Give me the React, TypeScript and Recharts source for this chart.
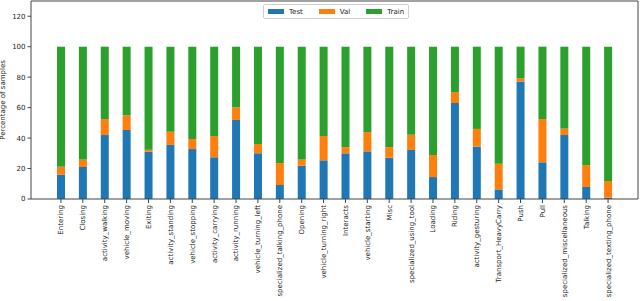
import { Bar, BarChart, Legend, ReferenceLine, XAxis, YAxis } from 'recharts';

const categories = [
    'Entering', 'Closing', 'activity_walking', 'vehicle_moving', 'Exiting', 'activity_standing',
    'vehicle_stopping', 'activity_carrying', 'activity_running', 'vehicle_turning_left',
    'specialized_talking_phone', 'Opening', 'vehicle_turning_right', 'Interacts', 'vehicle_starting',
    'Misc', 'specialized_using_tool', 'Loading', 'Riding', 'activity_gesturing', 'Transport_HeavyCarry',
    'Push', 'Pull', 'specialized_miscellaneous', 'Talking', 'specialized_texting_phone',
];
const testPct = [16, 21, 42, 45.3, 31, 35.5, 32.8, 27.4, 51.9, 30, 9.2, 21.9, 25.4, 30, 31.3, 27.1, 32.2, 14.4, 63, 34.4, 6.3, 77.2, 24.1, 42, 7.9, 0.9];
const valPct = [5.2, 5, 10.5, 9.7, 1.4, 8.7, 6.6, 14, 8.3, 6.1, 14.4, 4.1, 16, 4.1, 12.7, 7, 10, 14.5, 7.2, 11.6, 16.9, 2.2, 28.4, 4.2, 14.4, 10.9];
const trainPct = [78.8, 74, 47.5, 45, 67.6, 55.8, 60.6, 58.6, 39.8, 63.9, 76.4, 74, 58.6, 65.9, 56, 65.9, 57.8, 71.1, 29.8, 54, 76.8, 20.6, 47.5, 53.8, 77.7, 88.2];
const yTicks = [0, 20, 40, 60, 80, 100, 120];
const yMax = 130;

const series = [
    { key: 'test', name: 'Test', color: '#1f77b4' },
    { key: 'val', name: 'Val', color: '#ff7f0e' },
    { key: 'train', name: 'Train', color: '#2ca02c' },
];

const data = categories.map((name, i) => ({
    name,
    test: testPct[i],
    val: valPct[i],
    train: trainPct[i],
}));

const FONT = 'DejaVu Sans, sans-serif';
const SPINE = '#444';

const XTick = ({ x, y, payload }: any) => (
    <g transform={`translate(${x},${y}) rotate(-90)`}>
        <text x={0} y={0} dy="0.35em" textAnchor="end" fontSize={7} fontFamily={FONT} fill="#222">
            {payload.value}
        </text>
    </g>
);

const LegendBox = () => (
    <div
        style={{
            display: 'flex',
            alignItems: 'center',
            border: '1px solid #d0d0d0',
            borderRadius: 2,
            background: '#fff',
            height: 13,
            padding: '0 4px',
            fontFamily: FONT,
            fontSize: 7,
            color: '#222',
            boxSizing: 'content-box',
        }}
    >
        {series.map((s, i) => (
            <div key={s.key} style={{ display: 'flex', alignItems: 'center', marginLeft: i ? 16 : 0 }}>
                <span style={{ width: 16, height: 5, background: s.color, marginRight: 5 }} />
                <span>{s.name}</span>
            </div>
        ))}
    </div>
);

const App = () => {
    return (
        <div style={{ position: 'absolute', left: 0, top: 0, background: '#fff' }}>
            <BarChart width={640} height={301} data={data} margin={{ top: 1, right: 1, left: 0, bottom: 0 }}>
                <XAxis
                    dataKey="name"
                    interval={0}
                    height={102}
                    padding={{ left: 19, right: 19 }}
                    tick={<XTick />}
                    tickSize={4}
                    tickMargin={2}
                    stroke={SPINE}
                />
                <YAxis
                    domain={[0, yMax]}
                    ticks={yTicks}
                    width={31}
                    tickSize={3.5}
                    tickMargin={2}
                    stroke={SPINE}
                    tick={{ fontSize: 7, fontFamily: FONT, fill: '#222' }}
                    label={{
                        content: ({ viewBox }: any) => (
                            <text
                                transform={`translate(5,${viewBox.y + viewBox.height / 2}) rotate(-90)`}
                                textAnchor="middle"
                                fontSize={7}
                                fontFamily={FONT}
                                fill="#222"
                            >
                                Percentage of samples
                            </text>
                        ),
                    }}
                />
                <YAxis
                    yAxisId="right"
                    orientation="right"
                    width={1}
                    tick={false}
                    tickLine={false}
                    stroke={SPINE}
                    domain={[0, yMax]}
                />
                <ReferenceLine y={yMax} stroke={SPINE} />
                <Legend
                    layout="horizontal"
                    verticalAlign="middle"
                    align="center"
                    content={<LegendBox />}
                    wrapperStyle={{ top: 4, left: 263, width: 'auto' }}
                />
                {series.map((s) => (
                    <Bar
                        key={s.key}
                        dataKey={s.key}
                        name={s.name}
                        stackId="a"
                        fill={s.color}
                        barSize={8}
                        isAnimationActive={false}
                    />
                ))}
            </BarChart>
        </div>
    );
};

export default App;
